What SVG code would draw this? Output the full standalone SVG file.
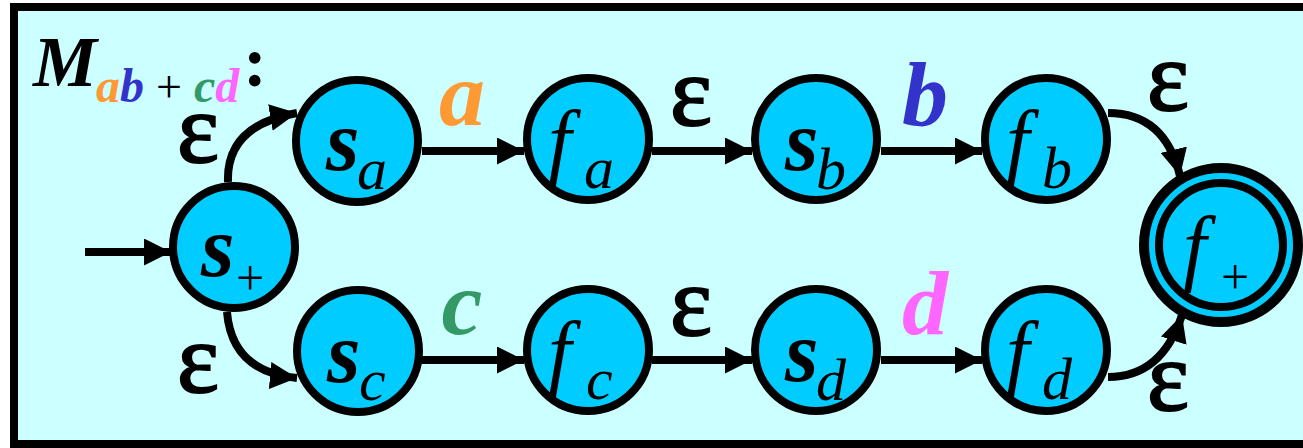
<svg xmlns="http://www.w3.org/2000/svg" width="1303" height="448" viewBox="0 0 1303 448">
<style>
.st{fill:#00CCFF;stroke:#000;stroke-width:8}
.e{fill:none;stroke:#000;stroke-width:8}
</style>
<defs>
<marker id="ah" viewBox="0 0 10 10" refX="10" refY="5" markerWidth="27" markerHeight="27" markerUnits="userSpaceOnUse" orient="auto">
<path d="M0,0 L10,5 L0,10 z" fill="#000"/>
</marker>
</defs>
<rect x="14" y="7" width="1300" height="437" fill="#CCFFFF" stroke="#000" stroke-width="8"/>
<g id="title" font-family="Liberation Serif, serif">
<text x="33" y="86" font-size="72" font-weight="bold" font-style="italic" fill="#000">M</text>
<text x="96" y="102" font-size="48" font-weight="bold" font-style="italic"><tspan fill="#FF9933">a</tspan><tspan fill="#3333CC">b</tspan></text>
<text x="156" y="102" font-size="46" fill="#000">+</text>
<text x="194" y="102" font-size="48" font-weight="bold" font-style="italic"><tspan fill="#339966">c</tspan><tspan fill="#FF66FF">d</tspan></text>
<text x="243" y="86" font-size="72" font-weight="bold" fill="#000">:</text>
</g>
<g id="connectors">
<line class="e" x1="85" y1="252" x2="171" y2="252" marker-end="url(#ah)"/>
<path class="e" d="M228,182 Q226,125 297,113" marker-end="url(#ah)"/>
<path class="e" d="M227,312 Q232,372 297,378" marker-end="url(#ah)"/>
<line class="e" x1="422" y1="151" x2="524" y2="151" marker-end="url(#ah)"/>
<line class="e" x1="652" y1="151" x2="752" y2="151" marker-end="url(#ah)"/>
<line class="e" x1="881" y1="151" x2="982" y2="151" marker-end="url(#ah)"/>
<line class="e" x1="422" y1="360" x2="524" y2="360" marker-end="url(#ah)"/>
<line class="e" x1="652" y1="360" x2="752" y2="360" marker-end="url(#ah)"/>
<line class="e" x1="881" y1="360" x2="982" y2="360" marker-end="url(#ah)"/>
<path class="e" d="M1108,113 Q1165,113 1180,176" marker-end="url(#ah)"/>
<path class="e" d="M1108,377 Q1162,377 1182,315" marker-end="url(#ah)"/>
</g>
<g id="labels" font-family="Liberation Serif, serif" text-anchor="middle">
<g font-size="100" fill="#000" stroke="#000" stroke-width="2">
<text x="198" y="162">ε</text>
<text x="198" y="392">ε</text>
<text x="691" y="125">ε</text>
<text x="691" y="335">ε</text>
<text x="1168" y="110">ε</text>
<text x="1168" y="410">ε</text>
</g>
<g font-size="92" font-weight="bold" font-style="italic">
<text x="462" y="125" fill="#FF9933">a</text>
<text x="925" y="125" fill="#3333CC">b</text>
<text x="462" y="334" fill="#339966">c</text>
<text x="925" y="334" fill="#FF66FF">d</text>
</g>
</g>
<g id="nodes" font-family="Liberation Serif, serif" fill="#000">
<g id="s_plus"><circle class="st" cx="234" cy="247" r="61"/><text x="201" y="276" font-size="86" font-weight="bold" font-style="italic">s</text><text x="236" y="295" font-size="50">+</text></g>
<g id="s_a"><circle class="st" cx="357" cy="141" r="61"/><text x="326" y="170" font-size="86" font-weight="bold" font-style="italic">s</text><text x="357" y="189" font-size="60" font-style="italic">a</text></g>
<g id="f_a"><circle class="st" cx="588" cy="139" r="61"/><text x="548" y="169" font-size="84" font-style="italic">f</text><text x="584" y="188" font-size="60" font-style="italic">a</text></g>
<g id="s_b"><circle class="st" cx="816" cy="139" r="61"/><text x="785" y="170" font-size="86" font-weight="bold" font-style="italic">s</text><text x="816" y="189" font-size="60" font-style="italic">b</text></g>
<g id="f_b"><circle class="st" cx="1046" cy="139" r="61"/><text x="1006" y="169" font-size="84" font-style="italic">f</text><text x="1042" y="188" font-size="60" font-style="italic">b</text></g>
<g id="s_c"><circle class="st" cx="358" cy="351" r="61"/><text x="327" y="382" font-size="86" font-weight="bold" font-style="italic">s</text><text x="359" y="400" font-size="60" font-style="italic">c</text></g>
<g id="f_c"><circle class="st" cx="588" cy="350" r="61"/><text x="548" y="380" font-size="84" font-style="italic">f</text><text x="586" y="399" font-size="60" font-style="italic">c</text></g>
<g id="s_d"><circle class="st" cx="816" cy="350" r="61"/><text x="785" y="381" font-size="86" font-weight="bold" font-style="italic">s</text><text x="816" y="400" font-size="60" font-style="italic">d</text></g>
<g id="f_d"><circle class="st" cx="1046" cy="350" r="61"/><text x="1006" y="380" font-size="84" font-style="italic">f</text><text x="1042" y="399" font-size="60" font-style="italic">d</text></g>
<g id="f_plus"><circle cx="1221" cy="245" r="77" fill="#00CCFF" stroke="#000" stroke-width="10"/><circle class="st" cx="1221" cy="245" r="62"/><text x="1183" y="275" font-size="84" font-style="italic">f</text><text x="1221" y="294" font-size="50">+</text></g>
</g>
</svg>
